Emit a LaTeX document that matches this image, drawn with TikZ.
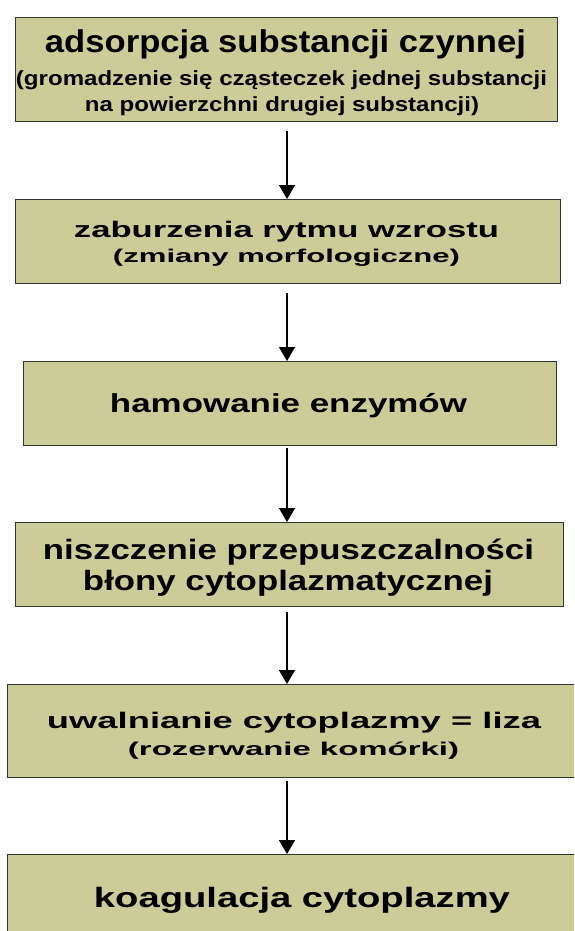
\documentclass[tikz,border=0pt]{standalone}
\usepackage{fontspec}
\usepackage{graphicx}
\setmainfont{Liberation Sans}
\usetikzlibrary{arrows.meta}
\definecolor{boxfill}{RGB}{204,204,153}
\definecolor{boxline}{RGB}{51,51,51}
\newcommand\fitline[3]{{\fontsize{#1}{#1}\selectfont\bfseries\resizebox{#2pt}{\height}{#3}}}
\tikzset{
  stepbox/.style={draw=boxline, line width=1pt, fill=boxfill, rectangle, anchor=north west, inner sep=0pt},
  txt/.style={anchor=base, inner sep=0pt},
  arr/.style={line width=1.5pt, -{Triangle[length=14pt,width=16pt]}},
}
\begin{document}
\begin{tikzpicture}[x=1pt,y=-1pt]
\useasboundingbox (0,0) rectangle (574,931);
\clip (0,0) rectangle (574,931);
\node[stepbox, minimum width=542pt, minimum height=104pt] (b1) at (15,17) {};
\node[stepbox, minimum width=545pt, minimum height=84pt] (b2) at (15,199) {};
\node[stepbox, minimum width=533pt, minimum height=84pt] (b3) at (23,361) {};
\node[stepbox, minimum width=548pt, minimum height=84pt] (b4) at (15,522) {};
\node[stepbox, minimum width=568pt, minimum height=93pt] (b5) at (7,684) {};
\node[stepbox, minimum width=568pt, minimum height=106pt] (b6) at (7,854) {};
% texts
\node[txt] (t1a) at (285.5,53) {\fitline{31.5}{481}{adsorpcja substancji czynnej}};
\node[txt] (t1b) at (281.5,86) {\fitline{20.5}{531}{(gromadzenie się cząsteczek jednej substancji}};
\node[txt] (t1c) at (282,112) {\fitline{20.5}{394}{na powierzchni drugiej substancji)}};
\node[txt] (t2a) at (286.5,237) {\fitline{22.5}{425}{zaburzenia rytmu wzrostu}};
\node[txt] (t2b) at (286.5,262) {\fitline{18.5}{347}{(zmiany morfologiczne)}};
\node[txt] (t3) at (288.5,412) {\fitline{26}{357}{hamowanie enzymów}};
\node[txt] (t4a) at (288.5,559) {\fitline{28}{491}{niszczenie przepuszczalności}};
\node[txt] (t4b) at (288,590) {\fitline{28}{410}{błony cytoplazmatycznej}};
\node[txt] (t5a) at (294,728) {\fitline{22.5}{494}{uwalnianie cytoplazmy = liza}};
\node[txt] (t5b) at (293.5,755) {\fitline{18.5}{331}{(rozerwanie komórki)}};
\node[txt] (t6) at (302,907) {\fitline{28}{416}{koagulacja cytoplazmy}};
% arrows
\coordinate (ax) at (287,0);
\draw[arr] ([yshift=-9pt]b1.south -| ax) -- (b2.north -| ax);
\draw[arr] ([yshift=-9pt]b2.south -| ax) -- (b3.north -| ax);
\draw[arr] ([yshift=-2pt]b3.south -| ax) -- (b4.north -| ax);
\draw[arr] ([yshift=-5pt]b4.south -| ax) -- (b5.north -| ax);
\draw[arr] ([yshift=-3pt]b5.south -| ax) -- (b6.north -| ax);
\end{tikzpicture}
\end{document}
